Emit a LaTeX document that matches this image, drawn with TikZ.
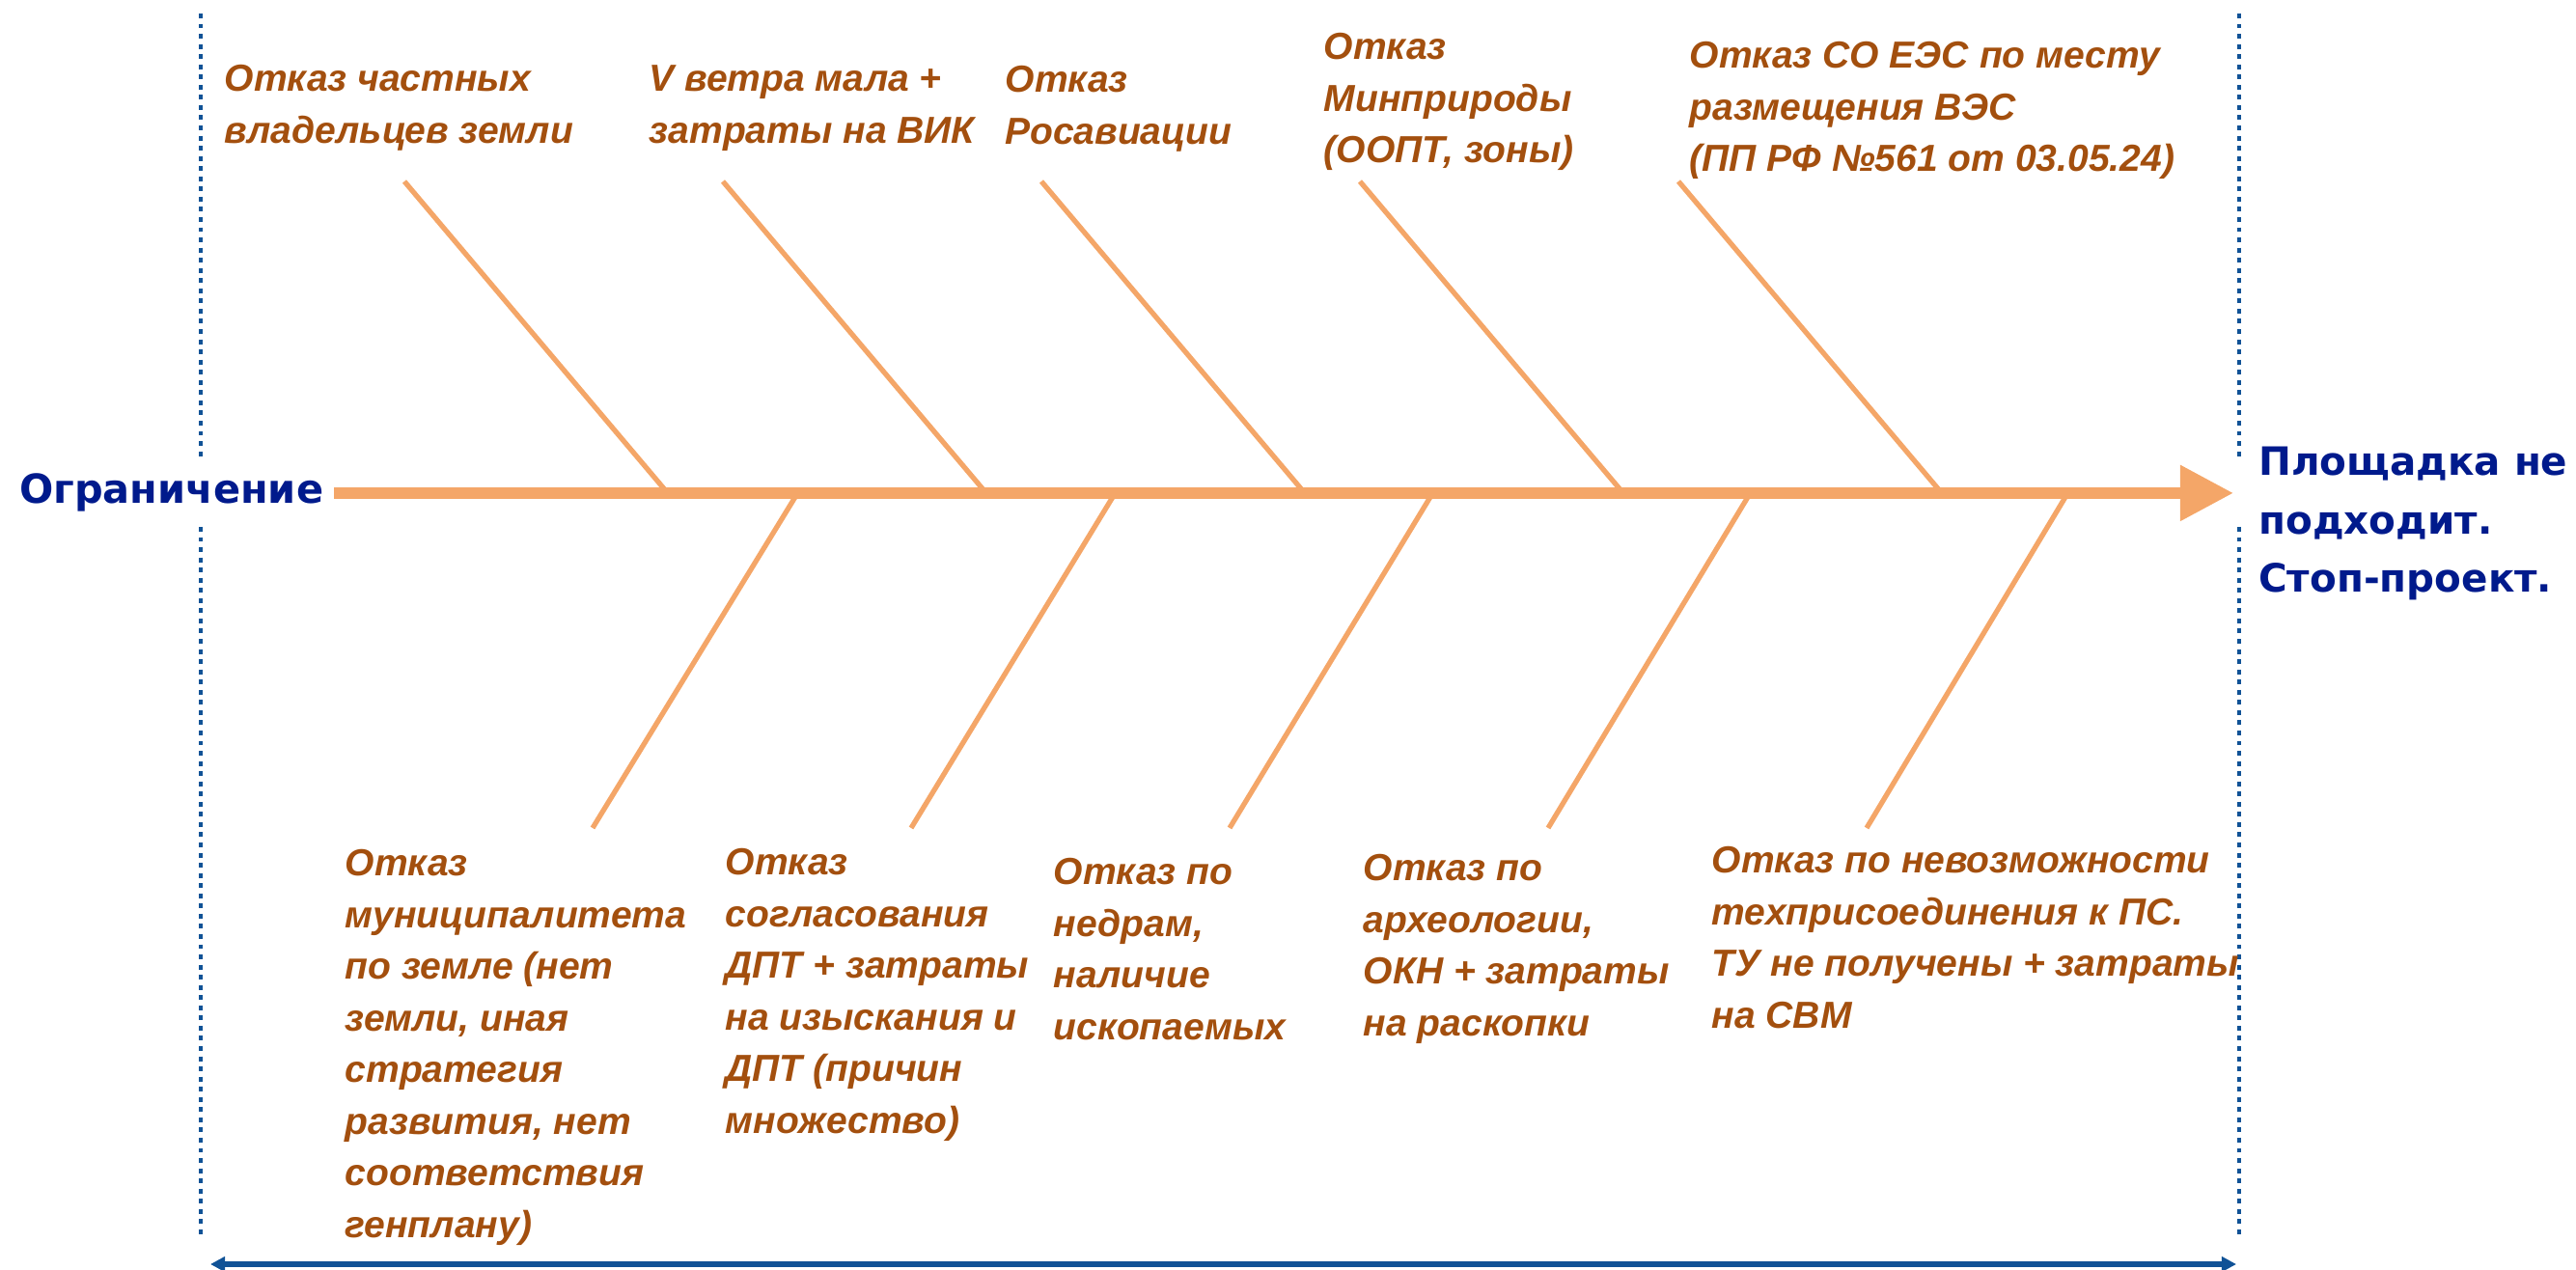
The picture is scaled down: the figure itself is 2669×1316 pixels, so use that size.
\documentclass[tikz,border=0pt]{standalone}
\usepackage{fontspec}
\setmainfont{Liberation Sans}
\newfontfamily\headfont{DejaVu Sans}
\usetikzlibrary{arrows.meta}
\definecolor{boneorange}{RGB}{244,166,104}
\definecolor{causebrown}{RGB}{163,79,14}
\definecolor{headblue}{RGB}{0,26,140}
\definecolor{frameblue}{RGB}{16,82,150}

\begin{document}
\begin{tikzpicture}[
    x = 0.01cm, y = -0.01cm,
    bone/.style = {draw = boneorange, line width = 1.5pt},
    spine/.style = {draw = boneorange, line width = 3.3pt, -{Triangle[length = 5.5mm, width = 5.5mm]}},
    frame/.style = {draw = frameblue, line width = 1.4pt, dash pattern = on 1.4pt off 1.6pt},
    extent/.style = {draw = frameblue, line width = 1.6pt, {Triangle[length = 4.3pt, width = 4.3pt]}-{Triangle[length = 4.3pt, width = 4.3pt]}}
  ]
  \tikzstyle {cause} = [anchor = north west, align = left, inner sep = 0, text = causebrown,
                        font = \bfseries\itshape\fontsize{11.1}{15.2}\selectfont]
  \tikzstyle {headline} = [text = headblue, inner sep = 3pt,
                           font = \headfont\bfseries\fontsize{11.8}{17.2}\selectfont]
  \useasboundingbox (0,0) rectangle (2669,1316);
  % frame
  \foreach \x in {208, 2320}
    { \draw [frame] (\x,14) -- (\x,477) ;
      \draw [frame] (\x,546) -- (\x,1283) ; } ;
  \coordinate (extentleft) at (218,1310);
  \coordinate (extentright) at (2317,1310);
  \draw [extent] (extentleft) -- (extentright) ;
  % place nodes
  \path node (limit) [headline, anchor = base west] at (9,522) {Ограничение};
  \path node (stop) [headline, anchor = north west, align = left, font = \headfont\bfseries\fontsize{11.5}{17.2}\selectfont]
    at (2329,452) {Площадка не\\подходит.\\Стоп-проект.};
  \path node (owners) [cause] at (232,67) {Отказ частных\\владельцев земли};
  \path node (wind) [cause] at (672,67) {V ветра мала +\\затраты на ВИК};
  \path node (aviation) [cause] at (1041,68) {Отказ\\Росавиации};
  \path node (nature) [cause] at (1371,34) {Отказ\\Минприроды\\(ООПТ, зоны)};
  \path node (grid) [cause] at (1750,43) {Отказ СО ЕЭС по месту\\размещения ВЭС\\(ПП РФ №561 от 03.05.24)};
  \path node (municipal) [cause] at (357,880) {Отказ\\муниципалитета\\по земле (нет\\земли, иная\\стратегия\\развития, нет\\соответствия\\генплану)};
  \path node (planning) [cause] at (751,879) {Отказ\\согласования\\ДПТ + затраты\\на изыскания и\\ДПТ (причин\\множество)};
  \path node (subsoil) [cause] at (1091,889) {Отказ по\\недрам,\\наличие\\ископаемых};
  \path node (heritage) [cause] at (1412,885) {Отказ по\\археологии,\\ОКН + затраты\\на раскопки};
  \path node (connect) [cause] at (1773,877) {Отказ по невозможности\\техприсоединения к ПС.\\ТУ не получены + затраты\\на СВМ};
  % place edges
  \foreach \i in {1,...,5}
    { \coordinate (topend\i) at ({419+330*(\i-1)},188);
      \coordinate (topjoin\i) at ({691+330*(\i-1)},510);
      \coordinate (lowjoin\i) at ({827+329*(\i-1)},510);
      \coordinate (lowend\i) at ({614+330*(\i-1)},858);
      \draw [bone] (topend\i) -- (topjoin\i) ;
      \draw [bone] (lowjoin\i) -- (lowend\i) ; } ;
  \draw [spine, shorten > = 0.15cm] (limit.east) -- (limit.east -| stop.west) ;
\end{tikzpicture}
\end{document}
